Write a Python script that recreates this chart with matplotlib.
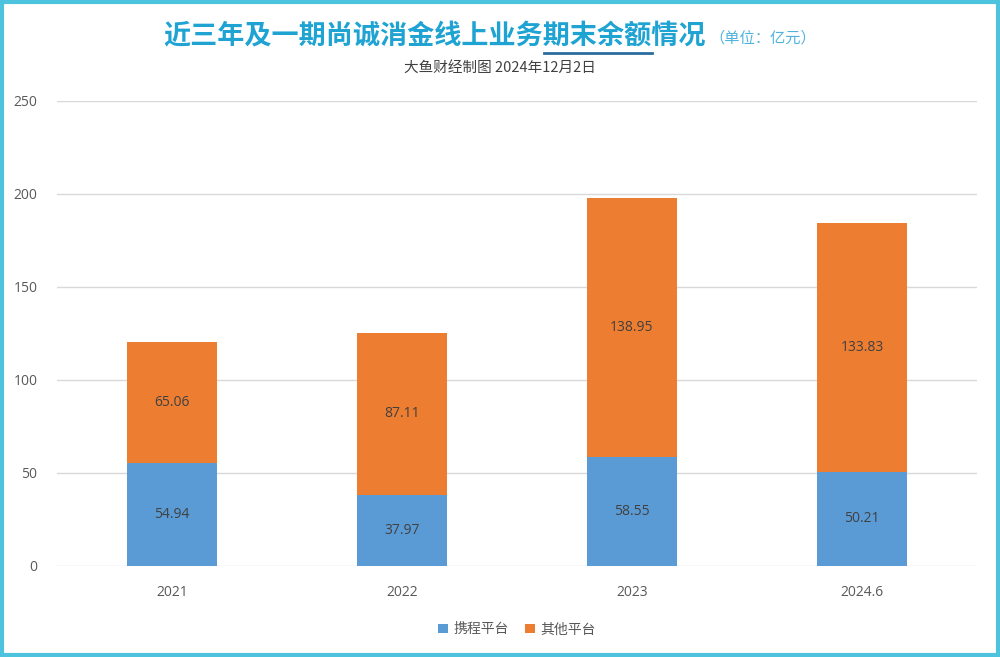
import matplotlib.pyplot as plt
from matplotlib.patches import Rectangle

plt.rcParams['font.family'] = ['Noto Sans CJK SC', 'DejaVu Sans']

# data (unit: 亿元)
years = ['2021', '2022', '2023', '2024.6']
ctrip = [54.94, 37.97, 58.55, 50.21]
other = [65.06, 87.11, 138.95, 133.83]
legend_labels = ['携程平台', '其他平台']
yticks = [0, 50, 100, 150, 200, 250]

blue = '#5B9BD5'
orange = '#ED7D31'
grid_c = '#D9D9D9'
tick_c = '#595959'
title_c = '#1FA3D3'
num_font = ['Open Sans', 'DejaVu Sans']

fig = plt.figure(figsize=(10, 6.57), dpi=100)
ax = fig.add_axes([0.057, 0.139, 0.92, 0.708])

x = range(len(years))
ax.bar(x, ctrip, width=0.395, color=blue, label=legend_labels[0], zorder=3)
ax.bar(x, other, width=0.395, bottom=ctrip, color=orange, label=legend_labels[1], zorder=3)

for i in x:
    ax.text(i, ctrip[i] / 2, f'{ctrip[i]:.2f}', ha='center', va='center',
            fontsize=10, color='#404040', family=num_font, zorder=4)
    ax.text(i, ctrip[i] + other[i] / 2, f'{other[i]:.2f}', ha='center', va='center',
            fontsize=10, color='#404040', family=num_font, zorder=4)

ax.set_xlim(-0.5, len(years) - 0.5)
ax.set_ylim(0, 250)
ax.set_yticks(yticks)
ax.set_xticks(list(x))
ax.set_xticklabels(years)
for lab in ax.get_xticklabels() + ax.get_yticklabels():
    lab.set_family(num_font)
ax.tick_params(length=0, colors=tick_c, labelsize=10)
ax.tick_params(axis='y', pad=14)
ax.tick_params(axis='x', pad=14)
ax.yaxis.grid(True, color=grid_c, linewidth=1, zorder=0)
for s in ax.spines.values():
    s.set_visible(False)

ax.legend(loc='upper center', bbox_to_anchor=(0.5, -0.095), ncol=2, frameon=False,
          fontsize=10, handlelength=0.7, handleheight=0.7, handletextpad=0.4,
          columnspacing=1.2, labelcolor=tick_c)

# title
title = fig.text(0.435, 0.944, '近三年及一期尚诚消金线上业务期末余额情况', ha='center', va='center',
                 fontsize=19.5, fontweight='bold', color=title_c)
fig.text(0.709, 0.942, '（单位：亿元）', ha='left', va='center', fontsize=11, color='#4FB3DC')
fig.text(0.5, 0.897, '大鱼财经制图 2024年12月2日', ha='center', va='center',
         fontsize=10.5, color='#404040')

# underline under 期末余额
fig.canvas.draw()
bb = title.get_window_extent().transformed(fig.transFigure.inverted())
cw = (bb.x1 - bb.x0) / 20
fig.add_artist(plt.Line2D([bb.x0 + 14 * cw, bb.x0 + 18 * cw], [bb.y0 - 0.004, bb.y0 - 0.004],
                          color='#2B6C9E', linewidth=2, transform=fig.transFigure))

# outer frame
fig.add_artist(Rectangle((0.002, 0.003), 0.996, 0.994, transform=fig.transFigure,
                         fill=False, edgecolor='#4EC3DE', linewidth=3))

fig.savefig('out.png', dpi=100)
